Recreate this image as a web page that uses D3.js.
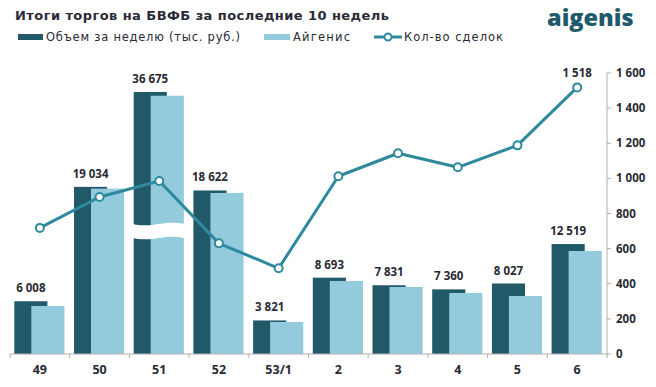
<!DOCTYPE html>
<html>
<head>
<meta charset="utf-8">
<script src="https://cdn.jsdelivr.net/npm/d3@7"></script>
<style>
  html, body { margin: 0; padding: 0; background: #fff; }
  svg { display: block; font-family: "DejaVu Sans", "Open Sans", sans-serif; }
</style>
</head>
<body>
<svg id="chart" width="656" height="387"></svg>
<script>
// ---- data ----
const categories = ["49", "50", "51", "52", "53/1", "2", "3", "4", "5", "6"];
const volumeValues = [6008, 19034, 36675, 18622, 3821, 8693, 7831, 7360, 8027, 12519];
const aigenisValues = [5470, 18830, 36250, 18340, 3650, 8320, 7630, 6950, 6610, 11730];
const dealsValues = [718, 894, 985, 630, 488, 1012, 1143, 1063, 1188, 1518];
const rightTicks = [0, 200, 400, 600, 800, 1000, 1200, 1400, 1600];
const title = "Итоги торгов на БВФБ за последние 10 недель";
const seriesNames = ["Объем за неделю (тыс. руб.)", "Айгенис", "Кол-во сделок"];
const brokenCategory = "51";
const breakCut = 6840;   // amount removed from the broken bar
const breakAt = 14800;   // where the break mark sits on the broken bar

const colDark = "#215968", colLight = "#93cbdc", colLine = "#2e899d", colText = "#2a2a35", colAxis = "#b0b0b0";
const numFont = "'Open Sans', sans-serif";

const svg = d3.select("#chart");
const fmt = d3.formatLocale({decimal: ",", thousands: " ", grouping: [3], currency: ["", ""]}).format(",d");

const x = d3.scaleBand().domain(categories).range([10, 607]).paddingInner(0).paddingOuter(0);
const yBar = d3.scaleLinear().domain([0, 32000]).range([354, 73]);
const yLine = d3.scaleLinear().domain([0, 1600]).range([354, 73]);
const bw = x.bandwidth();
const barW = bw * 0.555;
const darkOff = bw * 0.072, lightOff = bw * 0.357;

const disp = (c, v) => c === brokenCategory ? v - breakCut : v;

// bars
const g = svg.append("g");
categories.forEach((c, i) => {
  const vd = disp(c, volumeValues[i]);
  const vl = disp(c, aigenisValues[i]);
  g.append("rect").attr("x", x(c) + darkOff).attr("y", yBar(vd)).attr("width", barW)
    .attr("height", yBar(0) - yBar(vd)).attr("fill", colDark);
  g.append("rect").attr("x", x(c) + lightOff).attr("y", yBar(vl)).attr("width", barW)
    .attr("height", yBar(0) - yBar(vl)).attr("fill", colLight);
  g.append("text").attr("x", x(c) + darkOff + barW / 2).attr("y", yBar(vd) - 9)
    .attr("text-anchor", "middle").attr("font-size", 11.5).attr("font-weight", 700)
    .attr("font-family", numFont).attr("fill", colText).text(fmt(volumeValues[i]));
});

// break mark on broken bar
{
  const c = brokenCategory;
  const x0 = x(c) + darkOff - 2, x1 = x(c) + lightOff + barW + 2;
  const yTop = yBar(breakAt), h = 14;
  const n = 24, pts = [];
  for (let k = 0; k <= n; k++) {
    const t = k / n;
    pts.push([x0 + (x1 - x0) * t, yTop + 1.3 * Math.sin(t * Math.PI * 2)]);
  }
  const back = pts.slice().reverse().map(p => [p[0], p[1] + h]);
  svg.append("path").attr("d", d3.line()(pts.concat(back)) + "Z").attr("fill", "#fff");
}

// axes
const xAxis = svg.append("g").attr("transform", `translate(0,${yBar(0)})`);
xAxis.append("line").attr("x1", 10).attr("x2", 607).attr("stroke", colAxis).attr("stroke-width", 1);
categories.concat(["__end"]).forEach(c => {
  const xx = c === "__end" ? 607 : x(c);
  xAxis.append("line").attr("x1", xx).attr("x2", xx).attr("y1", 0).attr("y2", 4).attr("stroke", colAxis);
});
categories.forEach(c => {
  xAxis.append("text").attr("x", x(c) + bw / 2).attr("y", 20).attr("text-anchor", "middle")
    .attr("font-size", 12.5).attr("font-weight", 700).attr("font-family", numFont)
    .attr("fill", colText).text(c);
});

const yAxis = svg.append("g");
yAxis.append("line").attr("x1", 607).attr("x2", 607).attr("y1", yLine(0)).attr("y2", yLine(1600)).attr("stroke", colAxis);
rightTicks.forEach(t => {
  yAxis.append("line").attr("x1", 607).attr("x2", 611).attr("y1", yLine(t)).attr("y2", yLine(t)).attr("stroke", colAxis);
  yAxis.append("text").attr("x", 616).attr("y", yLine(t) + 4).attr("font-size", 11.5).attr("font-weight", 700)
    .attr("font-family", numFont).attr("fill", colText).text(fmt(t));
});

// line
const lineGen = d3.line().x((d, i) => x(categories[i]) + bw / 2).y(d => yLine(d));
svg.append("path").datum(dealsValues).attr("d", lineGen).attr("fill", "none")
  .attr("stroke", colLine).attr("stroke-width", 3).attr("stroke-linejoin", "round");
svg.selectAll("circle.pt").data(dealsValues).join("circle").attr("class", "pt")
  .attr("cx", (d, i) => x(categories[i]) + bw / 2).attr("cy", d => yLine(d)).attr("r", 4)
  .attr("fill", "#fff").attr("stroke", colLine).attr("stroke-width", 2);
{
  const last = dealsValues.length - 1;
  svg.append("text").attr("x", x(categories[last]) + bw / 2).attr("y", yLine(dealsValues[last]) - 10)
    .attr("text-anchor", "middle").attr("font-size", 11.5).attr("font-weight", 700)
    .attr("font-family", numFont).attr("fill", colText).text(fmt(dealsValues[last]));
}

// title and logo
svg.append("text").attr("x", 15).attr("y", 20).attr("font-size", 13).attr("font-weight", 700)
  .attr("fill", colText).attr("textLength", 374).attr("lengthAdjust", "spacing").text(title);
svg.append("text").attr("x", 547).attr("y", 26).attr("font-size", 23.5).attr("font-weight", 800)
  .attr("font-family", "'Open Sans', sans-serif")
  .attr("fill", "#1f5a6b").text("aigenis");

// legend
const lg = svg.append("g");
lg.append("rect").attr("x", 18).attr("y", 34).attr("width", 25).attr("height", 6).attr("fill", colDark);
lg.append("text").attr("x", 46).attr("y", 41).attr("font-size", 11.5).attr("fill", colText)
  .attr("textLength", 194).attr("lengthAdjust", "spacing").text(seriesNames[0]);
lg.append("rect").attr("x", 264).attr("y", 34).attr("width", 26).attr("height", 6).attr("fill", colLight);
lg.append("text").attr("x", 293).attr("y", 41).attr("font-size", 11.5).attr("fill", colText)
  .attr("textLength", 57).attr("lengthAdjust", "spacing").text(seriesNames[1]);
lg.append("line").attr("x1", 374).attr("x2", 402).attr("y1", 37).attr("y2", 37).attr("stroke", colLine).attr("stroke-width", 3);
lg.append("circle").attr("cx", 388).attr("cy", 37).attr("r", 3.5).attr("fill", "#fff").attr("stroke", colLine).attr("stroke-width", 2);
lg.append("text").attr("x", 404).attr("y", 41).attr("font-size", 11.5).attr("fill", colText)
  .attr("textLength", 99).attr("lengthAdjust", "spacing").text(seriesNames[2]);
</script>
</body>
</html>
